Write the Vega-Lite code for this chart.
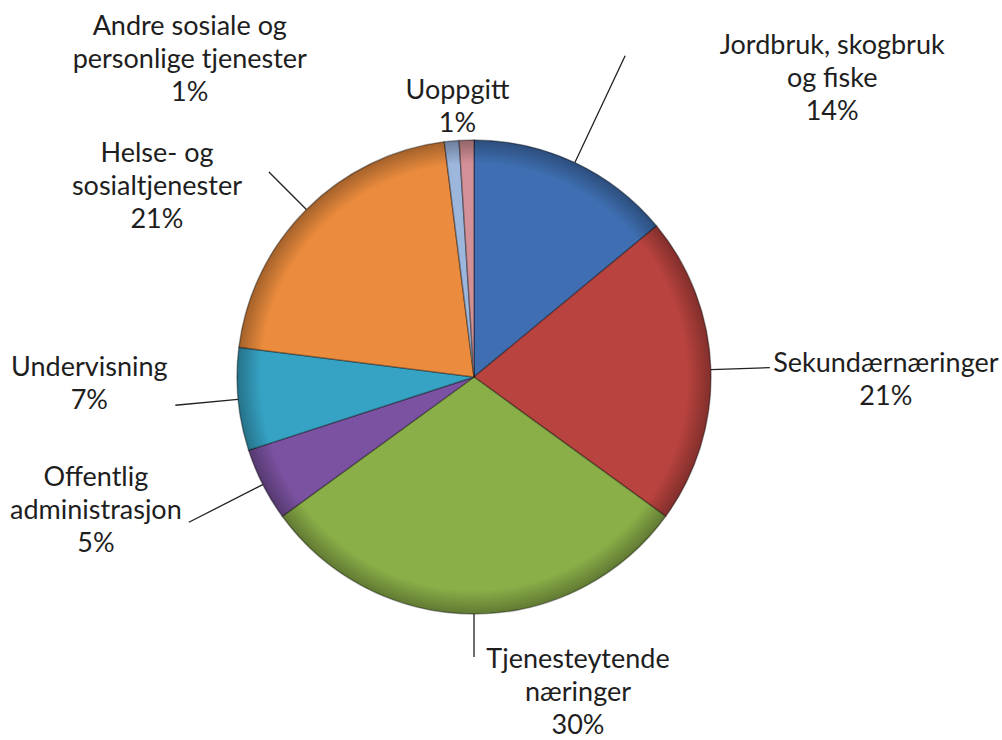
{
  "$schema": "https://vega.github.io/schema/vega-lite/v6.json",
  "autosize": {"type": "none"},
  "width": 948,
  "height": 726,
  "padding": {"left": 0, "top": 14, "right": 54, "bottom": 0},
  "background": "white",
  "view": {"stroke": null},
  "data": {
    "values": [
      {"cat": "Jordbruk, skogbruk og fiske", "ord": 1, "pct": 14, "label": "Jordbruk, skogbruk\nog fiske\n14%"},
      {"cat": "Sekundærnæringer", "ord": 2, "pct": 21, "label": "Sekundærnæringer\n21%"},
      {"cat": "Tjenesteytende næringer", "ord": 3, "pct": 30, "label": "Tjenesteytende\nnæringer\n30%"},
      {"cat": "Offentlig administrasjon", "ord": 4, "pct": 5, "label": "Offentlig\nadministrasjon\n5%"},
      {"cat": "Undervisning", "ord": 5, "pct": 7, "label": "Undervisning\n7%"},
      {"cat": "Helse- og sosialtjenester", "ord": 6, "pct": 21, "label": "Helse- og\nsosialtjenester\n21%"},
      {"cat": "Andre sosiale og personlige tjenester", "ord": 7, "pct": 1, "label": "Andre sosiale og\npersonlige tjenester\n1%"},
      {"cat": "Uoppgitt", "ord": 8, "pct": 1, "label": "Uoppgitt\n1%"}
    ]
  },
  "layer": [
    {
      "mark": {"type": "arc", "radius": 237, "stroke": "#000000", "strokeOpacity": 0.35, "strokeWidth": 1.5},
      "encoding": {
        "theta": {"field": "pct", "type": "quantitative", "stack": true, "scale": {"domain": [0, 100]}},
        "order": {"field": "ord", "type": "quantitative"},
        "color": {
          "field": "cat", "type": "nominal", "legend": null,
          "scale": {
            "domain": ["Jordbruk, skogbruk og fiske", "Sekundærnæringer", "Tjenesteytende næringer", "Offentlig administrasjon", "Undervisning", "Helse- og sosialtjenester", "Andre sosiale og personlige tjenester", "Uoppgitt"],
            "range": ["#3f6fb2", "#b9433e", "#8aae48", "#7b52a1", "#36a3c4", "#ea8b3d", "#9db6dc", "#d39197"]
          }
        }
      }
    },
    {
      "transform": [{"aggregate": [{"op": "sum", "field": "pct", "as": "total"}]}],
      "mark": {
        "type": "arc", "radius": 237,
        "fill": {"gradient": "radial", "x1": 0.5, "y1": 0.5, "r1": 0, "x2": 0.5, "y2": 0.5, "r2": 0.5,
          "stops": [{"offset": 0, "color": "rgba(0,0,0,0)"}, {"offset": 0.9, "color": "rgba(0,0,0,0)"}, {"offset": 1, "color": "rgba(0,0,0,0.3)"}]}
      },
      "encoding": {
        "theta": {"field": "total", "type": "quantitative", "stack": true, "scale": {"domain": [0, 100]}}
      }
    },
    {
      "mark": {"type": "arc", "radius": 355, "radius2": 237, "padAngle": 3.1416, "fillOpacity": 0, "stroke": "#222222", "strokeWidth": 1.3},
      "encoding": {
        "theta": {"field": "pct", "type": "quantitative", "stack": true, "scale": {"domain": [0, 100]}},
        "order": {"field": "ord", "type": "quantitative"},
        "strokeOpacity": {"condition": {"test": "datum.ord === 1", "value": 1}, "value": 0}
      }
    },
    {
      "mark": {"type": "arc", "radius": 296, "radius2": 237, "padAngle": 3.1416, "fillOpacity": 0, "stroke": "#222222", "strokeWidth": 1.3},
      "encoding": {
        "theta": {"field": "pct", "type": "quantitative", "stack": true, "scale": {"domain": [0, 100]}},
        "order": {"field": "ord", "type": "quantitative"},
        "strokeOpacity": {"condition": {"test": "datum.ord === 2", "value": 1}, "value": 0}
      }
    },
    {
      "mark": {"type": "arc", "radius": 280, "radius2": 237, "padAngle": 3.1416, "fillOpacity": 0, "stroke": "#222222", "strokeWidth": 1.3},
      "encoding": {
        "theta": {"field": "pct", "type": "quantitative", "stack": true, "scale": {"domain": [0, 100]}},
        "order": {"field": "ord", "type": "quantitative"},
        "strokeOpacity": {"condition": {"test": "datum.ord === 3", "value": 1}, "value": 0}
      }
    },
    {
      "mark": {"type": "arc", "radius": 320, "radius2": 237, "padAngle": 3.1416, "fillOpacity": 0, "stroke": "#222222", "strokeWidth": 1.3},
      "encoding": {
        "theta": {"field": "pct", "type": "quantitative", "stack": true, "scale": {"domain": [0, 100]}},
        "order": {"field": "ord", "type": "quantitative"},
        "strokeOpacity": {"condition": {"test": "datum.ord === 4", "value": 1}, "value": 0}
      }
    },
    {
      "mark": {"type": "arc", "radius": 300, "radius2": 237, "padAngle": 3.1416, "fillOpacity": 0, "stroke": "#222222", "strokeWidth": 1.3},
      "encoding": {
        "theta": {"field": "pct", "type": "quantitative", "stack": true, "scale": {"domain": [0, 100]}},
        "order": {"field": "ord", "type": "quantitative"},
        "strokeOpacity": {"condition": {"test": "datum.ord === 5", "value": 1}, "value": 0}
      }
    },
    {
      "mark": {"type": "arc", "radius": 290, "radius2": 237, "padAngle": 3.1416, "fillOpacity": 0, "stroke": "#222222", "strokeWidth": 1.3},
      "encoding": {
        "theta": {"field": "pct", "type": "quantitative", "stack": true, "scale": {"domain": [0, 100]}},
        "order": {"field": "ord", "type": "quantitative"},
        "strokeOpacity": {"condition": {"test": "datum.ord === 6", "value": 1}, "value": 0}
      }
    },
    {
      "mark": {"type": "text", "radius": 355, "dx": 207, "dy": -10, "font": "Lato", "fontSize": 27, "lineHeight": 33, "lineBreak": "\n", "align": "center", "baseline": "middle", "color": "#1e1e1e"},
      "encoding": {
        "theta": {"field": "pct", "type": "quantitative", "stack": true, "scale": {"domain": [0, 100]}},
        "order": {"field": "ord", "type": "quantitative"},
        "text": {"condition": {"test": "datum.ord === 1", "field": "label"}, "value": ""}
      }
    },
    {
      "mark": {"type": "text", "radius": 296, "dx": 116, "dy": -4, "font": "Lato", "fontSize": 27, "lineHeight": 33, "lineBreak": "\n", "align": "center", "baseline": "middle", "color": "#1e1e1e"},
      "encoding": {
        "theta": {"field": "pct", "type": "quantitative", "stack": true, "scale": {"domain": [0, 100]}},
        "order": {"field": "ord", "type": "quantitative"},
        "text": {"condition": {"test": "datum.ord === 2", "field": "label"}, "value": ""}
      }
    },
    {
      "mark": {"type": "text", "radius": 280, "dx": 104, "dy": 3, "font": "Lato", "fontSize": 27, "lineHeight": 33, "lineBreak": "\n", "align": "center", "baseline": "middle", "color": "#1e1e1e"},
      "encoding": {
        "theta": {"field": "pct", "type": "quantitative", "stack": true, "scale": {"domain": [0, 100]}},
        "order": {"field": "ord", "type": "quantitative"},
        "text": {"condition": {"test": "datum.ord === 3", "field": "label"}, "value": ""}
      }
    },
    {
      "mark": {"type": "text", "radius": 320, "dx": -93, "dy": -44, "font": "Lato", "fontSize": 27, "lineHeight": 33, "lineBreak": "\n", "align": "center", "baseline": "middle", "color": "#1e1e1e"},
      "encoding": {
        "theta": {"field": "pct", "type": "quantitative", "stack": true, "scale": {"domain": [0, 100]}},
        "order": {"field": "ord", "type": "quantitative"},
        "text": {"condition": {"test": "datum.ord === 4", "field": "label"}, "value": ""}
      }
    },
    {
      "mark": {"type": "text", "radius": 300, "dx": -86, "dy": -37, "font": "Lato", "fontSize": 27, "lineHeight": 33, "lineBreak": "\n", "align": "center", "baseline": "middle", "color": "#1e1e1e"},
      "encoding": {
        "theta": {"field": "pct", "type": "quantitative", "stack": true, "scale": {"domain": [0, 100]}},
        "order": {"field": "ord", "type": "quantitative"},
        "text": {"condition": {"test": "datum.ord === 5", "field": "label"}, "value": ""}
      }
    },
    {
      "mark": {"type": "text", "radius": 290, "dx": -112, "dy": -18, "font": "Lato", "fontSize": 27, "lineHeight": 33, "lineBreak": "\n", "align": "center", "baseline": "middle", "color": "#1e1e1e"},
      "encoding": {
        "theta": {"field": "pct", "type": "quantitative", "stack": true, "scale": {"domain": [0, 100]}},
        "order": {"field": "ord", "type": "quantitative"},
        "text": {"condition": {"test": "datum.ord === 6", "field": "label"}, "value": ""}
      }
    },
    {
      "mark": {"type": "text", "radius": 300, "dx": -256, "dy": -51, "font": "Lato", "fontSize": 27, "lineHeight": 33, "lineBreak": "\n", "align": "center", "baseline": "middle", "color": "#1e1e1e"},
      "encoding": {
        "theta": {"field": "pct", "type": "quantitative", "stack": true, "scale": {"domain": [0, 100]}},
        "order": {"field": "ord", "type": "quantitative"},
        "text": {"condition": {"test": "datum.ord === 7", "field": "label"}, "value": ""}
      }
    },
    {
      "mark": {"type": "text", "radius": 271, "dx": -8, "dy": -15, "font": "Lato", "fontSize": 27, "lineHeight": 33, "lineBreak": "\n", "align": "center", "baseline": "middle", "color": "#1e1e1e"},
      "encoding": {
        "theta": {"field": "pct", "type": "quantitative", "stack": true, "scale": {"domain": [0, 100]}},
        "order": {"field": "ord", "type": "quantitative"},
        "text": {"condition": {"test": "datum.ord === 8", "field": "label"}, "value": ""}
      }
    }
  ]
}
